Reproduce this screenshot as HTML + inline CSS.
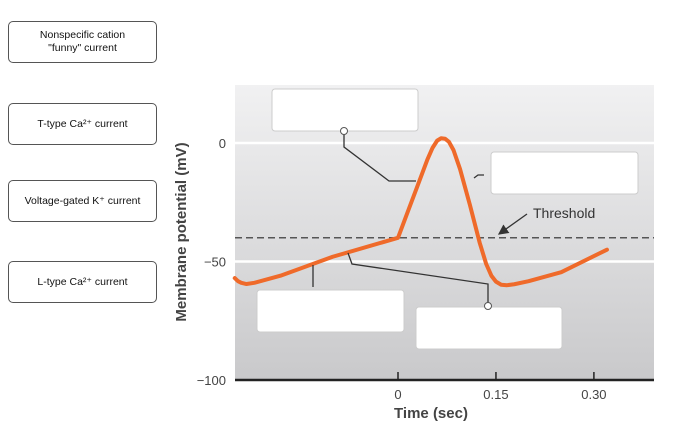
<!DOCTYPE html>
<html><head><meta charset="utf-8"><style>
body{margin:0;background:#fff;width:700px;height:440px;overflow:hidden;font-family:"Liberation Sans",sans-serif}
.lb{position:absolute;left:8px;width:147px;height:40px;border:1px solid #555;border-radius:5px;background:#fff;display:flex;align-items:center;justify-content:center;text-align:center;font-size:10.5px;line-height:13px;color:#111}
</style></head><body>
<div class="lb" style="top:21px">Nonspecific cation<br>"funny" current</div>
<div class="lb" style="top:103px">T-type Ca²⁺ current</div>
<div class="lb" style="top:180px">Voltage-gated K⁺ current</div>
<div class="lb" style="top:261px">L-type Ca²⁺ current</div>
<svg id="chart" width="700" height="440" style="position:absolute;left:0;top:0">
<defs><linearGradient id="bg" x1="0" y1="0" x2="0" y2="1"><stop offset="0" stop-color="#f1f1f2"/><stop offset="1" stop-color="#c9c9cb"/></linearGradient>
<marker id="ah" markerWidth="8" markerHeight="8" refX="7" refY="4" orient="auto"><path d="M0,0L8,4L0,8z" fill="#333"/></marker></defs>
<rect x="235" y="85" width="419" height="295" fill="url(#bg)"/>
<g id="grid"></g>
<g id="marks"></g>
<g id="leaders" stroke="#333" stroke-width="1.3" fill="none">
<polyline points="344,132 344,147 389,181 416,181"/>
<polyline points="474,178 478,175 484,175"/>
<line x1="313" y1="265" x2="313" y2="287"/>
<polyline points="348,253 352,264 488,284 488,303"/>
<line x1="527" y1="214" x2="499" y2="234" marker-end="url(#ah)"/>
</g>
<text x="533" y="218" font-size="14" fill="#333">Threshold</text>
<g fill="#fff" stroke="#ccc" stroke-width="1">
<rect x="272" y="89" width="146" height="42" rx="3"/>
<rect x="491" y="152" width="147" height="42" rx="3"/>
<rect x="257" y="290" width="147" height="42" rx="3"/>
<rect x="416" y="307" width="146" height="42" rx="3"/>
</g>
<circle cx="344" cy="131" r="3.5" fill="#fff" stroke="#555"/>
<circle cx="488" cy="306" r="3.5" fill="#fff" stroke="#555"/>
<line x1="235" y1="380" x2="654" y2="380" stroke="#222" stroke-width="2.5"/>
<g id="ticks"></g>
<text x="0" y="0" transform="translate(186,232) rotate(-90)" text-anchor="middle" font-size="15" font-weight="bold" fill="#444">Membrane potential (mV)</text>
<text x="431" y="418" text-anchor="middle" font-size="15" font-weight="bold" fill="#444">Time (sec)</text>
</svg>
<script>
const times=[-0.25,-0.245,-0.24,-0.232,-0.22,-0.18,-0.1,0,0.015,0.03,0.045,0.053,0.06,0.066,0.072,0.078,0.085,0.095,0.11,0.125,0.135,0.143,0.15,0.158,0.167,0.178,0.2,0.25,0.32];
const volts=[-57,-58.3,-59,-59.5,-59,-56,-48,-40,-29,-18,-7,-2,1,2,1.8,0.5,-3,-11,-26,-42,-51,-56,-58.5,-59.8,-60,-59.6,-58.3,-54.5,-45];
const xTicks=[0,0.15,0.30];
const xTickLabels=["0","0.15","0.30"];
const yTicks=[0,-50,-100];
const yTickLabels=["0","\u221250","\u2212100"];
const gridLevels=[0,-50];
const threshold=-40;
const X=t=>398+t*653, Y=v=>143-v*2.37;
const ns="http://www.w3.org/2000/svg";
function mk(tag,attrs,parent){const e=document.createElementNS(ns,tag);for(const k in attrs)e.setAttribute(k,attrs[k]);document.getElementById(parent).appendChild(e);return e;}
gridLevels.forEach(v=>{const l=mk('line',{x1:235,x2:654,y1:Y(v),y2:Y(v),stroke:'#fff','stroke-width':2.5},'grid');

});
const th=mk('line',{x1:235,x2:654,y1:Y(threshold),y2:Y(threshold),stroke:'#555','stroke-width':1.5,'stroke-dasharray':'7,4'},'grid');


const pts=times.map((t,i)=>X(t)+','+Y(volts[i])).join(' ');
const c=mk('polyline',{points:pts,fill:'none',stroke:'#ef6a2a','stroke-width':4,'stroke-linecap':'round','stroke-linejoin':'round'},'marks');


xTicks.forEach((t,i)=>{mk('line',{x1:X(t),x2:X(t),y1:372,y2:380,stroke:'#222','stroke-width':1.5},'ticks');
const tx=mk('text',{x:X(t),y:399,'text-anchor':'middle','font-size':13,fill:'#444'},'ticks');tx.textContent=xTickLabels[i];

});
yTicks.forEach((v,i)=>{const tx=mk('text',{x:226,y:Y(v)+5,'text-anchor':'end','font-size':13,fill:'#444'},'ticks');tx.textContent=yTickLabels[i];

});
</script>
</body></html>
